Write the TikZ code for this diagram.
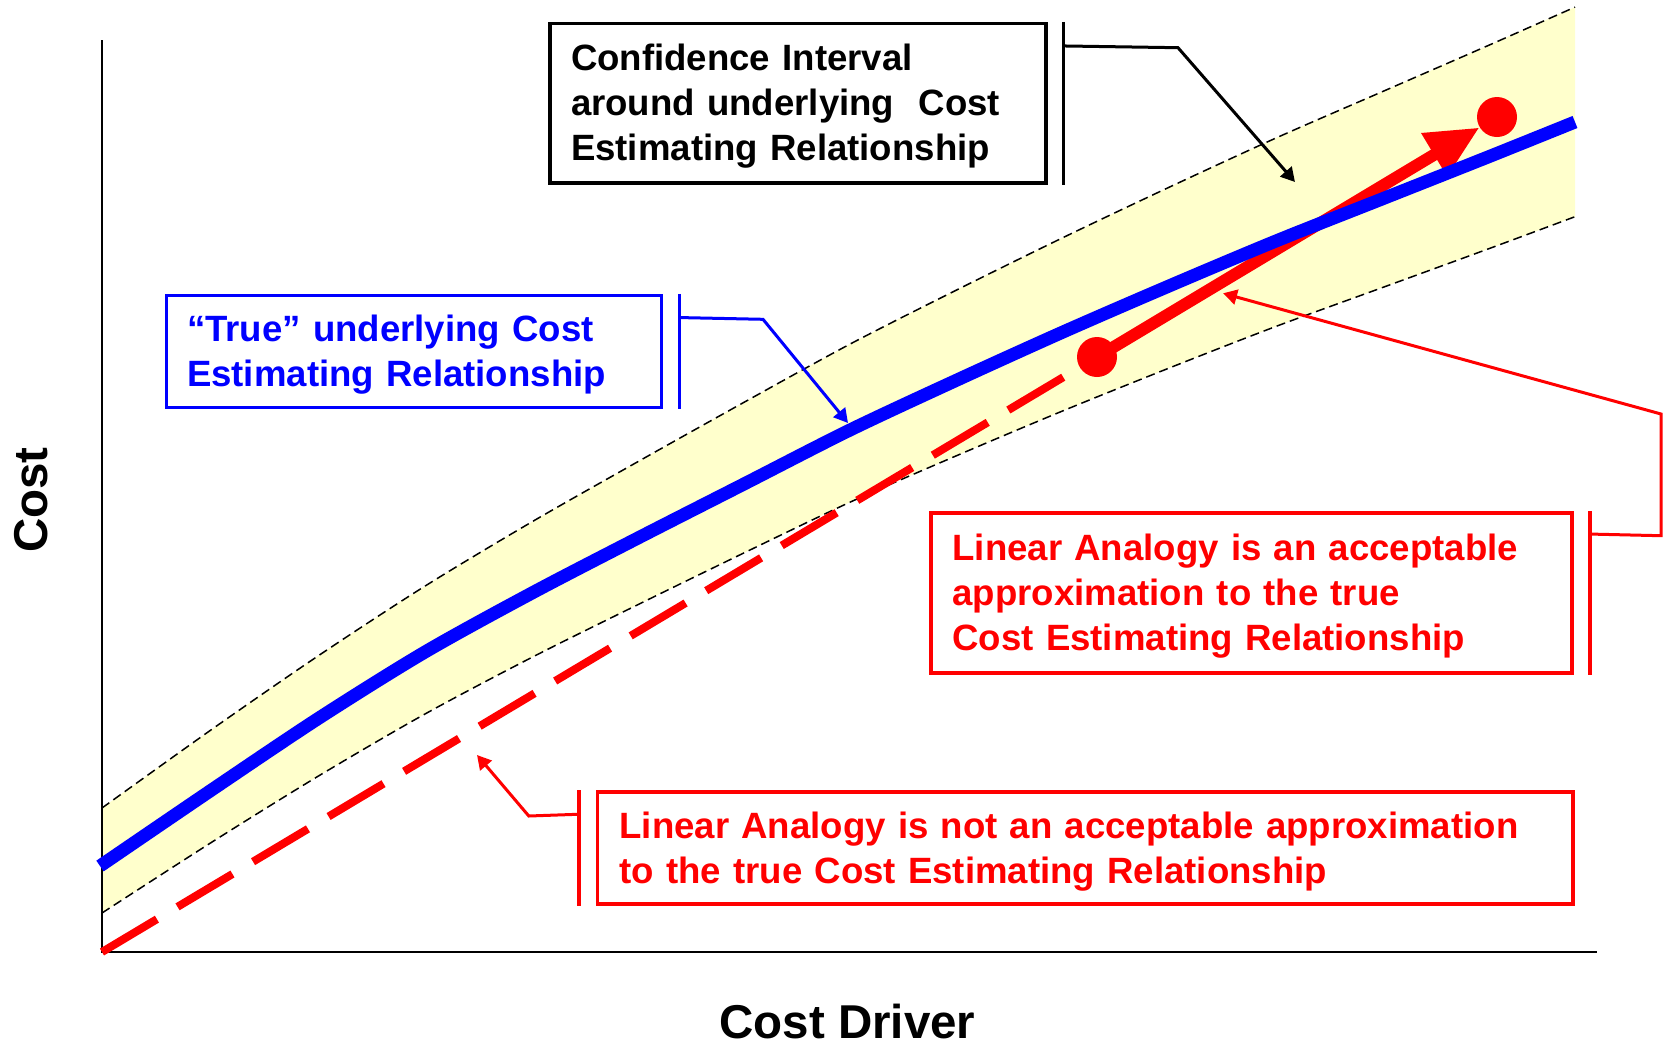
\documentclass[tikz,border=0pt]{standalone}
\usepackage{fontspec}
\setmainfont{Liberation Sans}
\usetikzlibrary{arrows.meta}
\definecolor{cred}{RGB}{255,0,0}
\definecolor{cblue}{RGB}{0,0,255}
\definecolor{bandfill}{RGB}{255,255,204}
\begin{document}
\begin{tikzpicture}[x=0.5pt,y=-0.5pt,
  boxstyle/.style={draw=#1, line width=1.75pt, text=#1,
    font=\bfseries\fontsize{18.3pt}{22.5pt}\selectfont, align=left,
    inner ysep=0pt, anchor=center,
    execute at begin node={\rule{0pt}{16.6pt}}},
  barstyle/.style={draw=#1, line width=1.75pt},
  leaderstyle/.style={draw=#1, line width=1.5pt, -{Triangle[length=7pt,width=7.5pt]}},
  bound/.style={draw=black, line width=0.75pt, dash pattern=on 4.5pt off 2.5pt},
  dotstyle/.style={circle, fill=cred, inner sep=0pt, minimum size=20pt},
  axislabel/.style={font=\bfseries\fontsize{23.75pt}{28pt}\selectfont, inner sep=0pt}
]
\useasboundingbox (0,0) rectangle (1667,1045);

% confidence band
\fill[bandfill] plot[smooth] coordinates {(102,808) (213,728.5) (319,655.3) (425,586.1) (532,521.8) (638,461.6) (744,402.3) (850,344.1) (957,289.8) (1063,237.6) (1169,187.3) (1276,138) (1382,91.8) (1488,45.6) (1575,7.1)}
  -- plot[smooth] coordinates {(1575,216.7) (1488,249) (1382,287.7) (1276,326.4) (1169,368.1) (1063,410.8) (957,455.5) (850,502.2) (744,552.9) (638,604.6) (532,657.3) (425,714) (319,775.7) (213,841.4) (102,913)} -- cycle;
\draw[bound] plot[smooth] coordinates {(102,808) (213,728.5) (319,655.3) (425,586.1) (532,521.8) (638,461.6) (744,402.3) (850,344.1) (957,289.8) (1063,237.6) (1169,187.3) (1276,138) (1382,91.8) (1488,45.6) (1575,7.1)};
\draw[bound] plot[smooth] coordinates {(102,913) (213,841.4) (319,775.7) (425,714) (532,657.3) (638,604.6) (744,552.9) (850,502.2) (957,455.5) (1063,410.8) (1169,368.1) (1276,326.4) (1382,287.7) (1488,249) (1575,216.7)};

% axes
\coordinate (org) at (102,952);
\coordinate (ytop) at (102,40);
\coordinate (xend) at (1597,952);
\draw[line width=1pt] (ytop) -- (org) -- (xend);

% red linear analogy
\node[dotstyle] (d1) at (1097,357) {};
\node[dotstyle] (d2) at (1497,117) {};
\draw[cred, line width=4pt, dash pattern=on 32pt off 12pt] (org) -- (d1.center);
\draw[cred, line width=6pt, -{Triangle[length=26.5pt,width=23.5pt]}] (d1.center) -- (d2);

% true CER
\draw[cblue, line width=6.5pt] plot[smooth] coordinates {(100,866) (213,789) (319,718) (425,652) (532,593) (638,538) (744,484) (850,430) (957,380) (1063,332) (1169,286) (1276,241) (1382,199) (1488,157) (1575,122)};

% boxes
\node[boxstyle=black, text width=227pt, inner xsep=10.5pt, minimum height=79.75pt] (ci) at (798,103.25)
  {Confidence Interval\\around underlying~ Cost\\Estimating Relationship};
\node[boxstyle=cblue, text width=227pt, inner xsep=10.25pt, minimum height=56pt] (tru) at (414,351.5)
  {“True” underlying Cost\\Estimating Relationship};
\node[boxstyle=cred, text width=299pt, inner xsep=10.75pt, minimum height=80pt] (acc) at (1251.5,593)
  {Linear Analogy is an acceptable\\approximation to the true\\Cost Estimating Relationship};
\node[boxstyle=cred, text width=465.75pt, inner xsep=11pt, minimum height=56pt] (nacc) at (1085.25,848)
  {Linear Analogy is not an acceptable approximation\\to the true Cost Estimating Relationship};

% callout bars and leaders
\draw[barstyle=black] ([xshift=7.75pt]ci.north east) -- ([xshift=7.75pt]ci.south east);
\coordinate (ciB) at (1178,47.7);
\coordinate (ciT) at (1295,182);
\draw[leaderstyle=black] ([xshift=7.75pt,yshift=-12.1pt]ci.north east) -- (ciB) -- (ciT);

\draw[barstyle=cblue] ([xshift=8pt]tru.north east) -- ([xshift=8pt]tru.south east);
\coordinate (truB) at (763,319.3);
\coordinate (truT) at (848,423);
\draw[leaderstyle=cblue] ([xshift=8pt,yshift=-11.9pt]tru.north east) -- (truB) -- (truT);

\draw[barstyle=cred] ([xshift=8pt]acc.north east) -- ([xshift=8pt]acc.south east);
\coordinate (accB) at (1661,535.7);
\coordinate (accC) at (1661,414);
\coordinate (accT) at (1223,293.3);
\draw[leaderstyle=cred] ([xshift=8pt,yshift=-11.4pt]acc.north east) -- (accB) -- (accC) -- (accT);

\draw[barstyle=cred] ([xshift=-8.5pt]nacc.north west) -- ([xshift=-8.5pt]nacc.south west);
\coordinate (naccB) at (528.8,816);
\coordinate (naccT) at (477,755);
\draw[leaderstyle=cred] ([xshift=-8.5pt,yshift=-12pt]nacc.north west) -- (naccB) -- (naccT);

% axis labels
\node[axislabel, rotate=90] (ylab) at (31,500) {Cost};
\node[axislabel, anchor=base] (xlab) at (847.5,1038) {Cost Driver};
\end{tikzpicture}
\end{document}
